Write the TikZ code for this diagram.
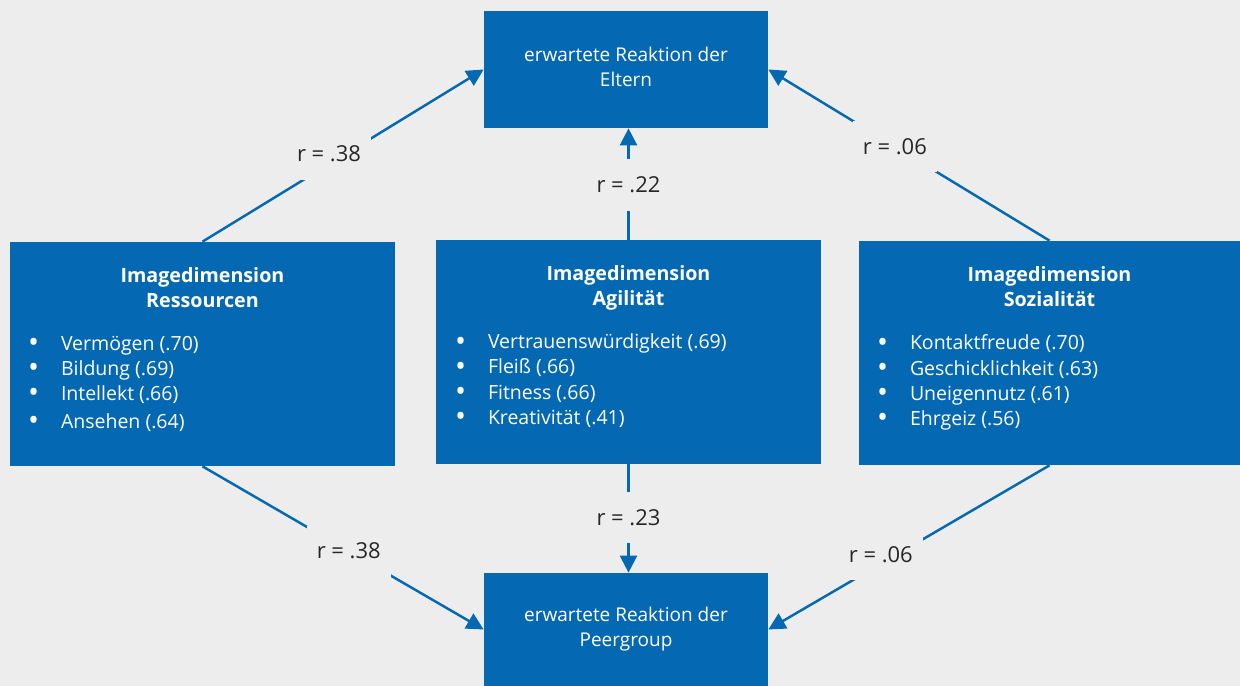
\documentclass[tikz,border=0pt]{standalone}
\usepackage{fontspec}
\setmainfont{Open Sans}
\usetikzlibrary{arrows.meta,positioning}
\definecolor{bgray}{HTML}{EDEDED}
\definecolor{boxblue}{HTML}{0568B3}

\tikzset{
  dimbox/.style={fill=boxblue, minimum width=7.7cm, minimum height=4.48cm, inner sep=0pt},
  reakbox/.style={fill=boxblue, minimum width=5.68cm, text=white, align=center,
    font=\fontsize{10.8}{14.2}\selectfont},
  dimtitle/.style={text=white, align=center, anchor=north, inner sep=0pt,
    font=\fontsize{11.2}{14.2}\selectfont\bfseries},
  dimitems/.style={text=white, align=left, anchor=north west, inner sep=0pt,
    font=\fontsize{11.1}{14.3}\selectfont},
  conn/.style={boxblue, line width=1.4pt, ->},
  rlabel/.style={fill=bgray, text=black!85, font=\fontsize{12.5}{14}\selectfont,
    inner xsep=2mm, inner ysep=3.5mm},
}
\newcommand{\bul}{\makebox[0.66cm][l]{\smash{\raisebox{-1.3pt}{\scalebox{1.5}{\textbullet}}}}}

\begin{document}
\begin{tikzpicture}[>={Triangle[length=3.4mm,width=3.4mm]}]
  \fill[bgray] (0,0) rectangle (24.8,13.72);
  \useasboundingbox (0,0) rectangle (24.8,13.72);

  % Reaktionen oben und unten
  \node[reakbox, minimum height=2.34cm] (eltern) at (12.52,12.33) {erwartete Reaktion der\\Eltern\\[-10.8pt]};
  \node[reakbox, minimum height=2.26cm] (peer) at (12.52,1.13) {erwartete Reaktion der\\Peergroup};

  % Die drei Imagedimensionen
  \node[dimbox] (res) at (4.05,6.64) {};
  \node[dimbox] (agil) at (12.57,6.68) {};
  \node[dimbox, minimum width=7.62cm] (soz) at (20.99,6.66) {};

  \node[dimtitle] at ([yshift=-0.51cm]res.north) {Imagedimension\\Ressourcen};
  \node[dimtitle] at ([yshift=-0.51cm]agil.north) {Imagedimension\\Agilität};
  \node[dimtitle] at ([yshift=-0.51cm]soz.north) {Imagedimension\\Sozialität};

  \node[dimitems] at ([xshift=0.36cm,yshift=-1.88cm]res.north west)
    {\bul Vermögen (.70)\\\bul Bildung (.69)\\\bul Intellekt (.66)\\[1.5pt]\bul Ansehen (.64)};
  \node[dimitems] at ([xshift=0.38cm,yshift=-1.88cm]agil.north west)
    {\bul Vertrauenswürdigkeit (.69)\\\bul Fleiß (.66)\\\bul Fitness (.66)\\\bul Kreativität (.41)};
  \node[dimitems] at ([xshift=0.36cm,yshift=-1.88cm]soz.north west)
    {\bul Kontaktfreude (.70)\\\bul Geschicklichkeit (.63)\\\bul Uneigennutz (.61)\\\bul Ehrgeiz (.56)};

  % Korrelationen
  \draw[conn] (res.north) -- (eltern.west) node[rlabel, pos=0.45, yshift=2mm] {r = .38};
  \draw[conn] (soz.north) -- (eltern.east) node[rlabel, pos=0.55] {r = .06};
  \draw[conn] (agil.north) -- (agil.north |- eltern.south) node[rlabel, pos=0.49] {r = .22};
  \draw[conn] (agil.south) -- (agil.south |- peer.north) node[rlabel, pos=0.49] {r = .23};
  \draw[conn] (res.south) -- (peer.west) node[rlabel, pos=0.52] {r = .38};
  \draw[conn] (soz.south) -- (peer.east) node[rlabel, pos=0.6, yshift=1.8mm] {r = .06};
\end{tikzpicture}
\end{document}
